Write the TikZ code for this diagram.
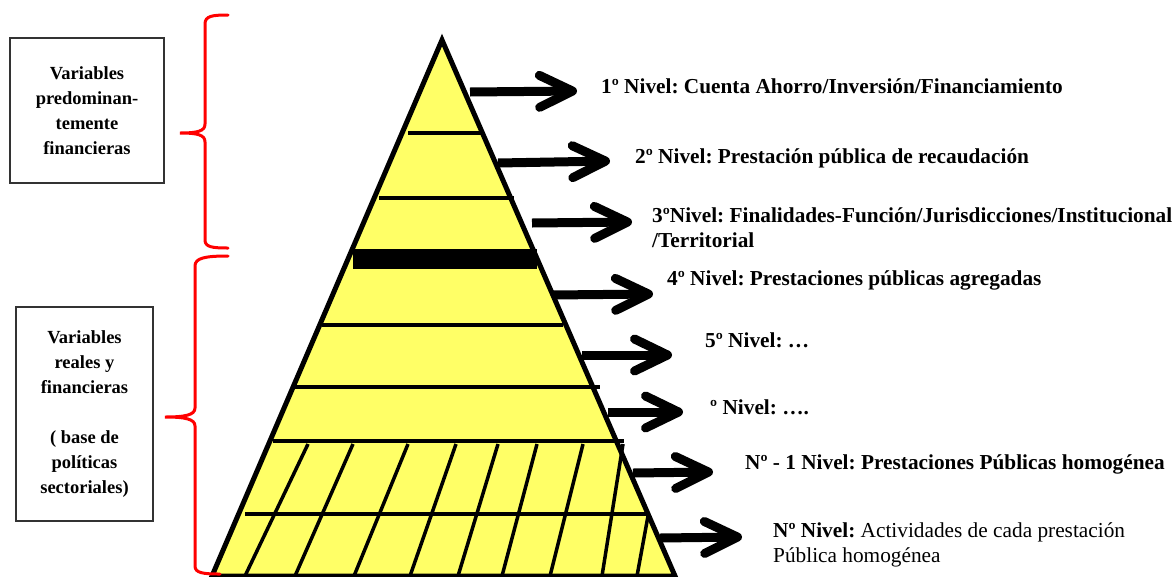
\documentclass[tikz,border=0pt]{standalone}
\usepackage{fontspec}
\setmainfont{Liberation Serif}[BoldFont={Liberation Serif Bold}]
\usetikzlibrary{arrows.meta}
\definecolor{pyryellow}{RGB}{255,255,102}
\newcommand{\lvfont}{\fontsize{21.3}{25}\selectfont\bfseries}
\frenchspacing

\begin{document}
\begin{tikzpicture}[x=1pt,y=-1pt,
   arr/.style={line width=9pt,-{Straight Barb[length=33pt,width=32pt,round]}},
   rib/.style={line width=4pt},
   slat/.style={line width=3.5pt},
   brace/.style={draw=red,line width=3pt,line cap=round},
   varbox/.style={draw=black!80,line width=1.2pt,align=center,
                  font=\fontsize{18.5}{25}\selectfont\bfseries},
   lvl/.style={font=\lvfont,anchor=base west,inner sep=0pt,align=left}]
   \useasboundingbox (0,0) rectangle (1174,576);
   \filldraw[fill=pyryellow,draw=black,line width=5pt] (442,40) -- (675,576) -- (212,576) -- cycle;
   \draw[rib] (408,133) -- (484,133);
   \draw[rib] (379,198) -- (514,198);
   \fill (353,249) rectangle (537,269);
   \draw[rib] (322,325) -- (563,325);
   \draw[rib] (294,387) -- (600,387);
   \draw[rib] (273,441) -- (624,441);
   \draw[rib] (245,514) -- (650,514);
   \foreach \tx/\bx in {308/245,353/295,408/354,456/410,498/458,537/502,583/550,623/602}
      \draw[slat] (\tx,444) -- (\bx,576);
   \draw[slat] (648,516) -- (637,576);
   \draw[brace] (228,15) .. controls (212,15) and (205,16) .. (205,24) -- (205,124)
      .. controls (205,131) and (198,133) .. (180,133)
      .. controls (198,133) and (205,135) .. (205,142) -- (205,240)
      .. controls (205,247) and (212,248) .. (228,248);
   \draw[brace] (228,256) .. controls (205,256) and (195,258) .. (195,266) -- (195,408)
      .. controls (195,415) and (185,417) .. (165,417)
      .. controls (185,417) and (195,419) .. (195,426) -- (195,566)
      .. controls (195,573) and (203,574) .. (220,574);
   \node[varbox,minimum width=154pt,minimum height=145pt] (fin) at (87,110.5)
      {Variables\\predominan-\\temente\\financieras};
   \node[varbox,minimum width=137pt,minimum height=214pt] (real) at (84.5,414)
      {Variables\\reales y\\financieras\\[25pt]( base de\\políticas\\sectoriales)};
   \node[lvl] (n1) at (601,93) {1º Nivel: Cuenta Ahorro/Inversión/Financiamiento};
   \node[lvl] (n2) at (635,163) {2º Nivel: Prestación pública de recaudación};
   \node[lvl] (n3) at (652,247) {3ºNivel: Finalidades-Función/Jurisdicciones/Institucional\\/Territorial};
   \node[lvl] (n4) at (667,285) {4º Nivel: Prestaciones públicas agregadas};
   \node[lvl] (n5) at (705,347) {5º Nivel: …};
   \node[lvl] (n6) at (710,414) {º Nivel: ….};
   \node[lvl] (n7) at (745,469) {Nº - 1 Nivel: Prestaciones Públicas homogénea};
   \node[lvl] (n8) at (773,562) {Nº Nivel: \mdseries Actividades de cada prestación\\\mdseries Pública homogénea};
   \foreach \i/\sx/\sy/\tx/\ty in {1/470/92/577/91,2/498/163/610/161,3/532/223/632/222,
         4/552/295/653/294,5/582/355/672/355,6/608/412/683/412,7/633/473/713/472,8/660/538/742/537}{
      \coordinate (s\i) at (\sx,\sy);
      \coordinate (t\i) at (\tx,\ty);
      \draw[arr] (s\i) -- (t\i);
   }
\end{tikzpicture}
\end{document}
